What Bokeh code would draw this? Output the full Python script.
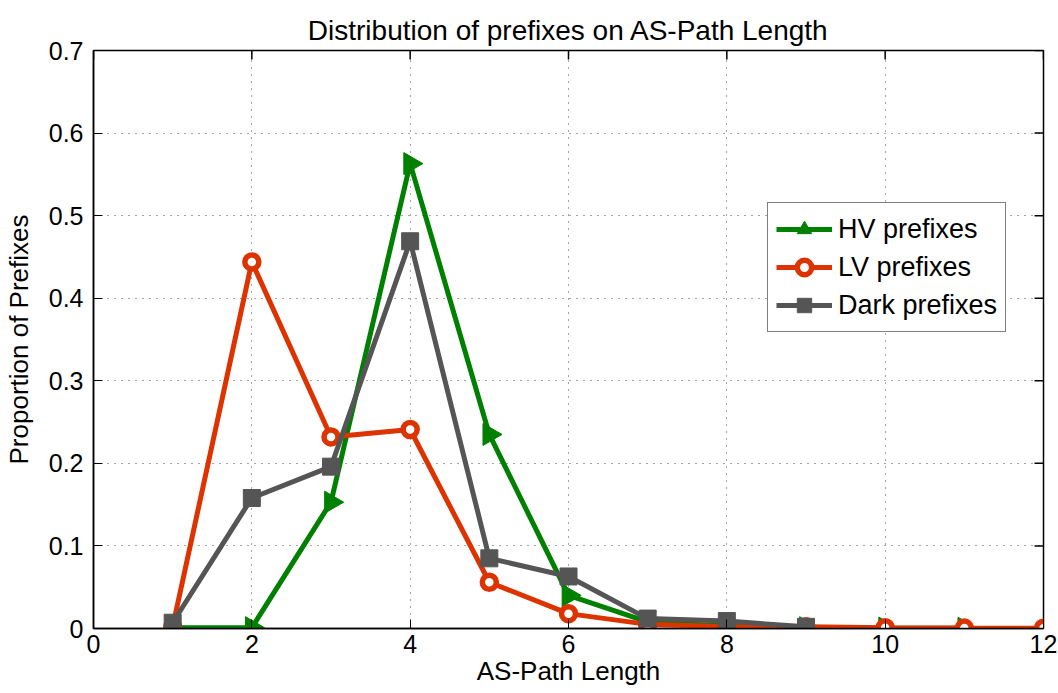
import math
from bokeh.plotting import figure
from bokeh.models import Legend, LegendItem, FixedTicker
from bokeh.embed import file_html
from bokeh.resources import INLINE

hv_x = [1, 2, 3, 4, 5, 6, 7, 8, 9, 10, 11]
hv_y = [0.001, 0.001, 0.153, 0.563, 0.235, 0.040, 0.008, 0.003, 0.001, 0.0005, 0.0003]
lv_x = [1, 2, 3, 4, 5, 6, 7, 8, 9, 10, 11, 12]
lv_y = [0.002, 0.444, 0.232, 0.241, 0.056, 0.018, 0.005, 0.002, 0.002, 0.001, 0.0005, 0.0003]
dark_x = [1, 2, 3, 4, 5, 6, 7, 8, 9]
dark_y = [0.007, 0.158, 0.196, 0.469, 0.085, 0.063, 0.012, 0.009, 0.002]
x_ticks = [0, 2, 4, 6, 8, 10, 12]
y_ticks = [0, 0.1, 0.2, 0.3, 0.4, 0.5, 0.6, 0.7]

GREEN = "#008000"
RED = "#dd3300"
GRAY = "#555555"
FONT = "Liberation Sans"

p = figure(width=1058, height=693, x_range=(0, 12), y_range=(0, 0.7),
           output_backend="svg", toolbar_location=None,
           min_border_left=93, min_border_right=15, min_border_top=50, min_border_bottom=65,
           title="Distribution of prefixes on AS-Path Length")
p.title.text_font = FONT
p.title.text_font_size = "28px"
p.title.text_font_style = "normal"
p.title.text_color = "black"
p.title.align = "center"
p.title.standoff = 10

p.outline_line_color = "black"
p.outline_line_width = 1.5
p.background_fill_color = "white"
p.border_fill_color = "white"

for ax in (p.xaxis[0], p.yaxis[0]):
    ax.major_tick_in = 9
    ax.major_tick_out = 0
    ax.minor_tick_in = 0
    ax.minor_tick_out = 0
    ax.axis_line_color = "black"
    ax.axis_line_width = 1.5
    ax.major_label_text_font = FONT
    ax.major_label_text_font_size = "25px"
    ax.major_label_text_color = "black"
    ax.axis_label_text_font = FONT
    ax.axis_label_text_font_size = "26px"
    ax.axis_label_text_font_style = "normal"
    ax.axis_label_text_color = "black"

p.xaxis.ticker = FixedTicker(ticks=x_ticks)
p.yaxis.ticker = FixedTicker(ticks=y_ticks)
p.yaxis.major_label_overrides = {0: "0"}
p.xaxis.axis_label = "AS-Path Length"
p.yaxis.axis_label = "Proportion of Prefixes"
p.xaxis.axis_label_standoff = 0
p.xaxis.major_label_standoff = 6
p.yaxis.major_label_standoff = 10
p.yaxis.axis_label_standoff = 12

p.xgrid.ticker = FixedTicker(ticks=x_ticks)
p.ygrid.ticker = FixedTicker(ticks=y_ticks)
p.grid.grid_line_color = "black"
p.grid.grid_line_alpha = 0.7
p.grid.grid_line_dash = "1 6"
p.grid.grid_line_width = 1

# mirrored inward ticks on top and right edges (half of each dash is clipped by the frame)
p.scatter(x_ticks, [y_ticks[-1]] * len(x_ticks), marker="dash", angle=math.pi / 2,
          size=18, line_color="black", line_width=1.5)
p.scatter([x_ticks[-1]] * len(y_ticks), y_ticks, marker="dash",
          size=18, line_color="black", line_width=1.5)

lw = 5
l_hv = p.line(hv_x, hv_y, line_color=GREEN, line_width=lw)
s_hv = p.scatter(hv_x, hv_y, marker="triangle", angle=-math.pi / 2, size=22,
                 fill_color=GREEN, line_color=GREEN)
l_lv = p.line(lv_x, lv_y, line_color=RED, line_width=lw)
s_lv = p.scatter(lv_x, lv_y, marker="circle", size=14, fill_color="white",
                 line_color=RED, line_width=5.5)
l_dk = p.line(dark_x, dark_y, line_color=GRAY, line_width=lw)
s_dk = p.scatter(dark_x, dark_y, marker="square", size=17, fill_color=GRAY, line_color=GRAY)

legend = Legend(items=[
    LegendItem(label="HV prefixes", renderers=[l_hv, s_hv]),
    LegendItem(label="LV prefixes", renderers=[l_lv, s_lv]),
    LegendItem(label="Dark prefixes", renderers=[l_dk, s_dk]),
], location=(674, 296))
legend.label_text_font = FONT
legend.label_text_font_size = "27px"
legend.label_text_color = "black"
legend.border_line_color = "black"
legend.border_line_width = 1.5
legend.glyph_width = 56
legend.glyph_height = 36
legend.label_height = 36
legend.label_standoff = 6
legend.spacing = 2
legend.padding = 8
legend.margin = 0
p.add_layout(legend, "center")

open("out.html", "w").write(file_html(p, INLINE))
